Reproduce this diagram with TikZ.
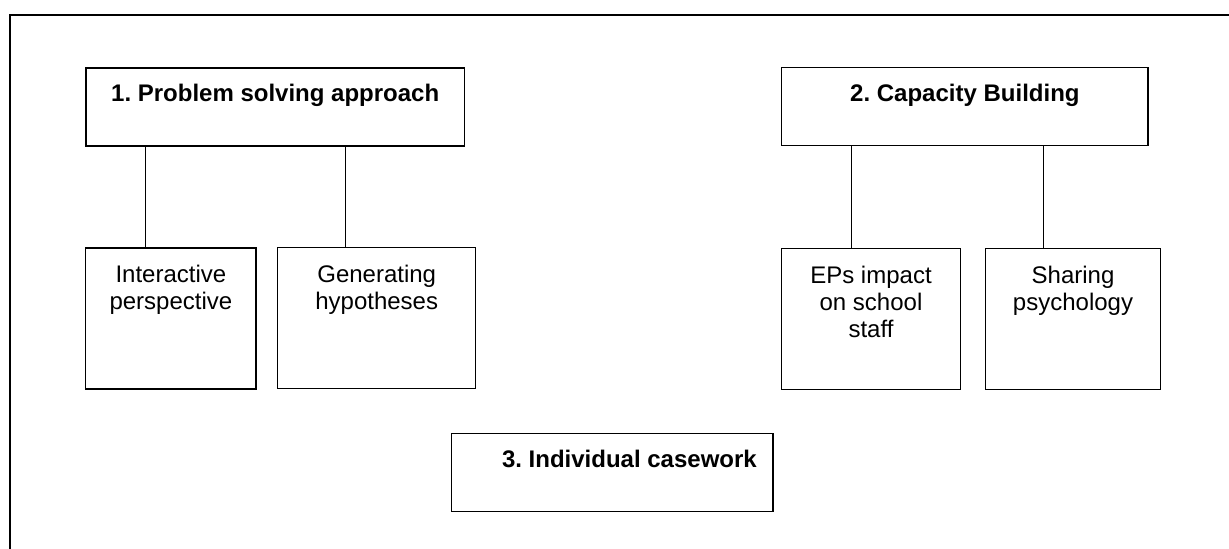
\documentclass[tikz,border=0pt]{standalone}
\usepackage{fontspec}
\setmainfont{Liberation Sans}
\usepackage{tikz}
\usetikzlibrary{calc}
\frenchspacing
\tikzset{
	% Two box styles for the map: wide topic boxes and tall theme boxes
	topic box/.style={draw,line width=0.75pt,inner sep=0pt,minimum height=39pt,minimum width=#1},
	theme box/.style={draw,line width=0.75pt,inner sep=0pt,minimum height=70.5pt,minimum width=#1},
	% Text sits at the top of each box
	topic text/.style={anchor=north,inner sep=0pt,yshift=-8.35pt,font=\fontsize{12}{13.5}\selectfont\bfseries},
	theme text/.style={anchor=north,inner sep=0pt,yshift=-8.9pt,align=center,font=\fontsize{12}{13.5}\selectfont},
	link/.style={draw,line width=0.7pt}
}

\begin{document}
\begin{tikzpicture}[x=0.5pt,y=-0.5pt,font=\fontsize{12}{13.5}\selectfont]
			\useasboundingbox (0,0) rectangle (1229,549);
			% Outer frame, only its top and left sides are shown
			\coordinate (fl) at (10,549);
			\coordinate (ft) at (10,15);
			\coordinate (fr) at (1229,15);
			\draw[line width=1pt] (fl) -- (ft) -- (fr);
			
			\node(ps)[topic box=189.2pt,label={[topic text]north:1. Problem solving approach}] at (275.2,107){};
			\node(cb)[topic box=183.2pt,label={[topic text]north:2. Capacity Building}] at (964.9,106.7){};
			\node(ic)[topic box=160.7pt,label={[topic text,xshift=8.5pt]north:3. Individual casework}] at (612.4,472.7){};
			
			\node(ip)[theme box=85.2pt,label={[theme text]north:{Interactive\\perspective}}] at (170.9,318.4){};
			\node(gh)[theme box=99pt,label={[theme text]north:{Generating\\hypotheses}}] at (376.7,318.2){};
			\node(ep)[theme box=89.3pt,label={[theme text]north:{EPs impact\\on school\\staff}}] at (871,319.2){};
			\node(sp)[theme box=87.3pt,label={[theme text]north:{Sharing\\psychology}}] at (1073,319.2){};
			
			% Vertical links from each topic to its themes
			\draw[link] (ip.north west) ++(60.3,0) coordinate (l1) -- (l1 |- ps.south);
			\draw[link] (gh.north west) ++(68.3,0) coordinate (l2) -- (l2 |- ps.south);
			\draw[link] (ep.north west) ++(70.6,0) coordinate (l3) -- (l3 |- cb.south);
			\draw[link] (sp.north west) ++(58.3,0) coordinate (l4) -- (l4 |- cb.south);
		\end{tikzpicture}
\end{document}
